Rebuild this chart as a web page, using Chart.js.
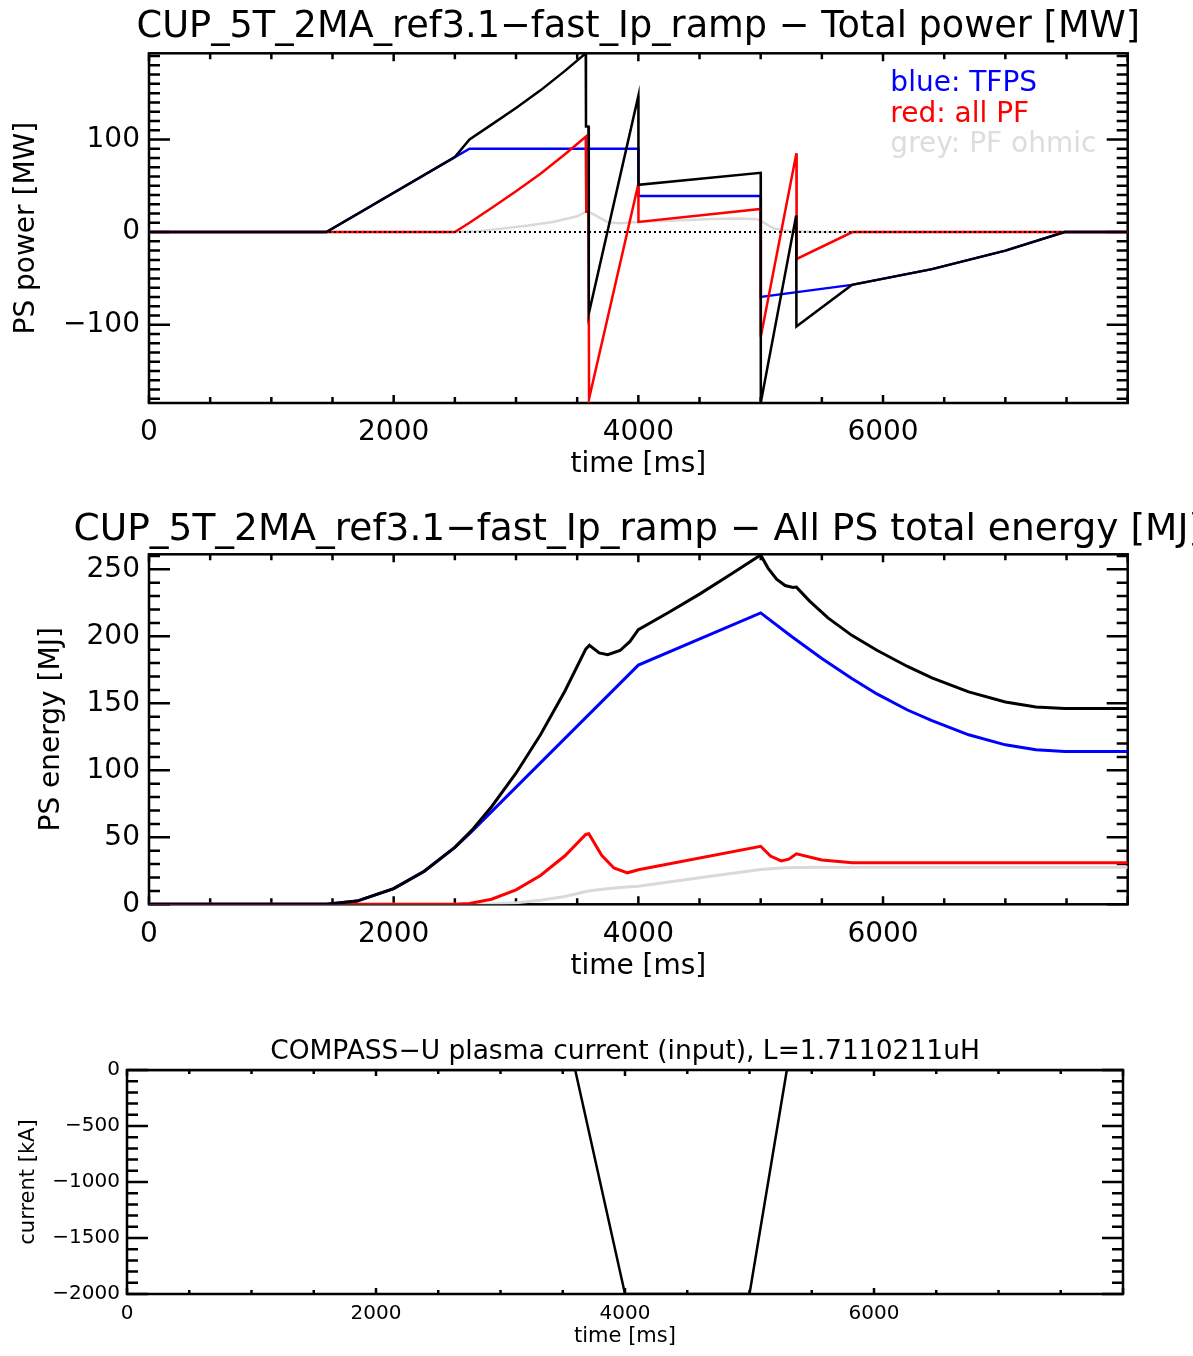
<!DOCTYPE html>
<html>
<head>
<meta charset="utf-8">
<title>CUP_5T_2MA_ref3.1-fast_Ip_ramp</title>
<script src="https://cdn.jsdelivr.net/npm/chart.js@4.4.1/dist/chart.umd.min.js"></script>
<style>
  html, body { margin: 0; padding: 0; background: #fff; overflow: hidden; }
  #page { position: relative; width: 1193px; height: 1356px; overflow: hidden; }
  canvas { position: absolute; left: 0; }
</style>
</head>
<body>
<div id="page">
  <canvas id="powerChart" width="1193" height="490" style="top:0px"></canvas>
  <canvas id="energyChart" width="1193" height="500" style="top:490px"></canvas>
  <canvas id="currentChart" width="1193" height="366" style="top:990px"></canvas>
</div>
<script>
const runName = 'CUP_5T_2MA_ref3.1\u2212fast_Ip_ramp';

// power supply power [MW] vs time [ms]
const powerTotalTime = [0, 1450, 2500, 2620, 2800, 3000, 3200, 3400, 3570, 3572, 3592, 3595, 4000, 4001, 5000, 5001, 5290, 5292, 5745, 6400, 7000, 7485, 8000];
const powerTotal     = [0, 0, 81, 100, 116, 134, 153, 174, 193, 114, 114, -88, 147, 51, 64, -184, 18, -102, -57, -40, -20, 0, 0];

const powerTfTime = [0, 1450, 2500, 2620, 4000, 4001, 5000, 5001, 5745, 6400, 7000, 7485, 8000];
const powerTf     = [0, 0, 81, 90, 90, 39, 39, -70, -57, -40, -20, 0, 0];

const powerPfTime = [0, 2500, 2620, 2800, 3000, 3200, 3400, 3570, 3574, 3593, 3597, 4000, 4001, 5000, 5001, 5292, 5294, 5750, 8000];
const powerPf     = [0, 0, 10, 26, 44, 63, 84, 103, 22, 22, -180, 52, 11, 25, -113, 85, -29, 0, 0];

const powerOhmicTime = [0, 2500, 2700, 2900, 3100, 3300, 3500, 3580, 3650, 3750, 3850, 4000, 4300, 4600, 4830, 4970, 5036, 5104, 5185, 5300, 5450, 8000];
const powerOhmic     = [0, 0, 1, 4, 7, 11, 17, 22.5, 18, 10.5, 9.5, 11, 12.5, 14, 14.8, 13.9, 9.4, 4, 2, 0.5, 0, 0];

// power supply energy [MJ] vs time [ms]
const energyTotalTime = [0, 1450, 1700, 2000, 2250, 2500, 2650, 2800, 3000, 3200, 3400, 3570, 3600, 3680, 3750, 3850, 3930, 4000, 4250, 4500, 4750, 5000, 5060, 5130, 5200, 5264, 5292, 5400, 5550, 5745, 5950, 6200, 6400, 6700, 7000, 7250, 7485, 8000];
const energyTotal     = [0, 0, 2.4, 11.7, 24.7, 42.5, 56.4, 72.8, 97.8, 126.5, 159.2, 190.4, 193.3, 187.6, 186.3, 189.4, 196, 204.9, 218, 231.5, 246, 260.7, 250.9, 242.7, 237.9, 236.5, 236.7, 226.3, 213.7, 200.7, 189.6, 177.5, 169, 158.5, 151, 147.3, 146.2, 146.2];

const energyTfTime = [0, 1450, 1700, 2000, 2250, 2500, 2620, 4000, 5000, 5250, 5500, 5745, 5950, 6200, 6400, 6700, 7000, 7250, 7485, 8000];
const energyTf     = [0, 0, 2.4, 11.7, 24.7, 42.5, 52.8, 178.5, 217.5, 200, 183.5, 168.5, 157, 145, 137, 126.5, 119, 115.3, 114, 114];

const energyPfTime = [0, 2500, 2620, 2800, 3000, 3200, 3400, 3570, 3595, 3700, 3800, 3911, 4000, 5000, 5080, 5167, 5230, 5292, 5500, 5750, 8000];
const energyPf     = [0, 0, 0.6, 3.8, 10.8, 21.5, 36.2, 52.1, 52.6, 36.5, 27.1, 23.5, 25.8, 43.3, 36, 32.4, 33.7, 37.7, 33.1, 31.1, 31.1];

const energyOhmicTime = [0, 2600, 2800, 3000, 3200, 3400, 3580, 3700, 3850, 4000, 4500, 5000, 5200, 5450, 8000];
const energyOhmic     = [0, 0, 0.3, 1.2, 3, 5.8, 9.8, 11.3, 12.5, 13.5, 19.8, 26, 27.3, 27.7, 27.7];

// plasma current [kA]
const currentTime   = [0, 3600, 4000, 5000, 5300, 8000];
const plasmaCurrent = [0, 0, -2000, -2000, 0, 0];

const noteLabels = ['blue: TFPS', 'red: all PF', 'grey: PF ohmic'];

const fontFamily = "'DejaVu Sans', 'Liberation Sans', sans-serif";
Chart.defaults.font.family = fontFamily;
Chart.defaults.color = '#000';

const BLACK = '#000000', BLUE = '#0000ff', RED = '#ff0000', GREY = '#d9d9d9';

function xy(t, v) {
  return t.map((x, i) => ({x: x, y: v[i]}));
}

function minusSign(v) {
  return String(v).replace('-', '\u2212');
}

function series(t, v, color, width, extra) {
  return Object.assign({
    data: xy(t, v),
    borderColor: color,
    borderWidth: width,
    pointRadius: 0,
    tension: 0,
    fill: false
  }, extra || {});
}

function nearMultiple(v, step) {
  return Math.abs(Math.round(v / step) * step - v) < 1e-6;
}

// box round the plot with inward ticks on all four sides
const idlFrame = {
  id: 'idlFrame',
  beforeDatasetsDraw(chart, args, o) {
    const {ctx, chartArea: a, scales: {x, y}} = chart;
    ctx.save();
    ctx.strokeStyle = '#000';
    ctx.lineWidth = o.lineWidth || 2;
    ctx.strokeRect(a.left, a.top, a.right - a.left, a.bottom - a.top);
    ctx.beginPath();
    for (let v = Math.ceil(x.min / o.xMinor) * o.xMinor; v <= x.max + 1e-6; v += o.xMinor) {
      const px = x.getPixelForValue(v);
      const len = nearMultiple(v, o.xMajor) ? o.xMajorLen : o.xMinorLen;
      ctx.moveTo(px, a.bottom); ctx.lineTo(px, a.bottom - len);
      ctx.moveTo(px, a.top); ctx.lineTo(px, a.top + len);
    }
    for (let v = Math.ceil(y.min / o.yMinor) * o.yMinor; v <= y.max + 1e-6; v += o.yMinor) {
      const py = y.getPixelForValue(v);
      const len = nearMultiple(v, o.yMajor) ? o.yMajorLen : o.yMinorLen;
      ctx.moveTo(a.left, py); ctx.lineTo(a.left + len, py);
      ctx.moveTo(a.right, py); ctx.lineTo(a.right - len, py);
    }
    ctx.stroke();
    ctx.restore();
  }
};

// plot title centred over the plot area
const plotTitle = {
  id: 'plotTitle',
  afterDraw(chart, args, o) {
    const {ctx, chartArea: a} = chart;
    ctx.save();
    ctx.font = o.size + 'px ' + fontFamily;
    ctx.fillStyle = '#000';
    ctx.textAlign = 'center';
    ctx.textBaseline = 'middle';
    ctx.fillText(o.text, (a.left + a.right) / 2, o.y);
    ctx.restore();
  }
};

// coloured notes written inside the plot, placed in data units
const plotNotes = {
  id: 'plotNotes',
  afterDatasetsDraw(chart, args, o) {
    if (!o.items) return;
    const {ctx, scales: {x, y}} = chart;
    ctx.save();
    ctx.font = o.size + 'px ' + fontFamily;
    ctx.textAlign = 'left';
    ctx.textBaseline = 'middle';
    o.items.forEach(item => {
      ctx.fillStyle = item.color;
      ctx.fillText(item.text, x.getPixelForValue(item.x), y.getPixelForValue(item.y));
    });
    ctx.restore();
  }
};

function timeAxis(size, pad, height, titleSize) {
  return {
    type: 'linear', min: 0, max: 8000,
    grid: {display: false, drawTicks: false},
    border: {display: false},
    ticks: {
      stepSize: 2000, includeBounds: false, padding: pad,
      maxRotation: 0, autoSkip: false, font: {size: size},
      callback: v => v === 8000 ? '' : String(v)
    },
    title: {display: true, text: 'time [ms]', font: {size: titleSize}, padding: {top: 0, bottom: 0}},
    afterFit: s => { s.height = height; }
  };
}

function valueAxis(min, max, step, label, size, pad, titlePad, width, titleSize) {
  return {
    type: 'linear', min: min, max: max,
    grid: {display: false, drawTicks: false},
    border: {display: false},
    ticks: {stepSize: step, includeBounds: false, padding: pad, font: {size: size}, callback: minusSign},
    title: {display: true, text: label, font: {size: titleSize}, padding: {top: titlePad, bottom: 0}},
    afterFit: s => { s.width = width; }
  };
}

function baseOptions(padding, scales, plugins) {
  return {
    responsive: false,
    animation: false,
    events: [],
    layout: {padding: padding},
    scales: scales,
    plugins: Object.assign({legend: {display: false}, tooltip: {enabled: false}}, plugins)
  };
}

// total power
new Chart(document.getElementById('powerChart'), {
  type: 'line',
  data: {
    datasets: [
      series(powerTotalTime, powerTotal, BLACK, 2.5),
      series([0, 8000], [0, 0], BLACK, 2, {borderDash: [2, 3]}),
      series(powerPfTime, powerPf, RED, 2.5),
      series(powerTfTime, powerTf, BLUE, 2.5),
      series(powerOhmicTime, powerOhmic, GREY, 2.5)
    ]
  },
  options: baseOptions(
    {left: 0, top: 53.3, right: 65.3, bottom: 8.2},
    {
      x: timeAxis(28, 13.2, 78.8, 28),
      y: valueAxis(-184.5, 193, 100, 'PS power [MW]', 28, 9, 10.2, 149, 28)
    },
    {
      idlFrame: {lineWidth: 2.5, xMajor: 2000, xMinor: 500, xMajorLen: 8, xMinorLen: 6, yMajor: 100, yMinor: 10, yMajorLen: 21, yMinorLen: 11},
      plotTitle: {text: runName + ' \u2212 Total power [MW]', size: 36.7, y: 27},
      plotNotes: {size: 28, items: [
        {text: noteLabels[0], color: BLUE, x: 6060, y: 160},
        {text: noteLabels[1], color: RED, x: 6060, y: 127},
        {text: noteLabels[2], color: '#dddddd', x: 6060, y: 94}
      ]}
    }
  ),
  plugins: [idlFrame, plotTitle, plotNotes]
});

// total energy
new Chart(document.getElementById('energyChart'), {
  type: 'line',
  data: {
    datasets: [
      series(energyTotalTime, energyTotal, BLACK, 3),
      series(energyPfTime, energyPf, RED, 3),
      series(energyTfTime, energyTf, BLUE, 3),
      series(energyOhmicTime, energyOhmic, GREY, 3)
    ]
  },
  options: baseOptions(
    {left: 0, top: 64.3, right: 65.3, bottom: 6.2},
    {
      x: timeAxis(28, 13.9, 79.5, 28),
      y: valueAxis(0, 261.2, 50, 'PS energy [MJ]', 28, 9, 35.2, 149, 28)
    },
    {
      idlFrame: {lineWidth: 2.5, xMajor: 2000, xMinor: 500, xMajorLen: 8, xMinorLen: 6, yMajor: 50, yMinor: 10, yMajorLen: 21, yMinorLen: 11},
      plotTitle: {text: runName + ' \u2212 All PS total energy [MJ]', size: 37.5, y: 40}
    }
  ),
  plugins: [idlFrame, plotTitle]
});

// plasma current
new Chart(document.getElementById('currentChart'), {
  type: 'line',
  data: {
    datasets: [
      series(currentTime, plasmaCurrent, BLACK, 2.5)
    ]
  },
  options: baseOptions(
    {left: 0, top: 80, right: 70, bottom: 6.4},
    {
      x: timeAxis(20, 8, 55.6, 21),
      y: valueAxis(-2000, 0, 500, 'current [kA]', 20, 7, 16.4, 127, 21)
    },
    {
      idlFrame: {lineWidth: 2.5, xMajor: 2000, xMinor: 500, xMajorLen: 6, xMinorLen: 4, yMajor: 500, yMinor: 100, yMajorLen: 21, yMinorLen: 11},
      plotTitle: {text: 'COMPASS\u2212U plasma current (input), L=1.7110211uH', size: 26.5, y: 62}
    }
  ),
  plugins: [idlFrame, plotTitle]
});
</script>
</body>
</html>
